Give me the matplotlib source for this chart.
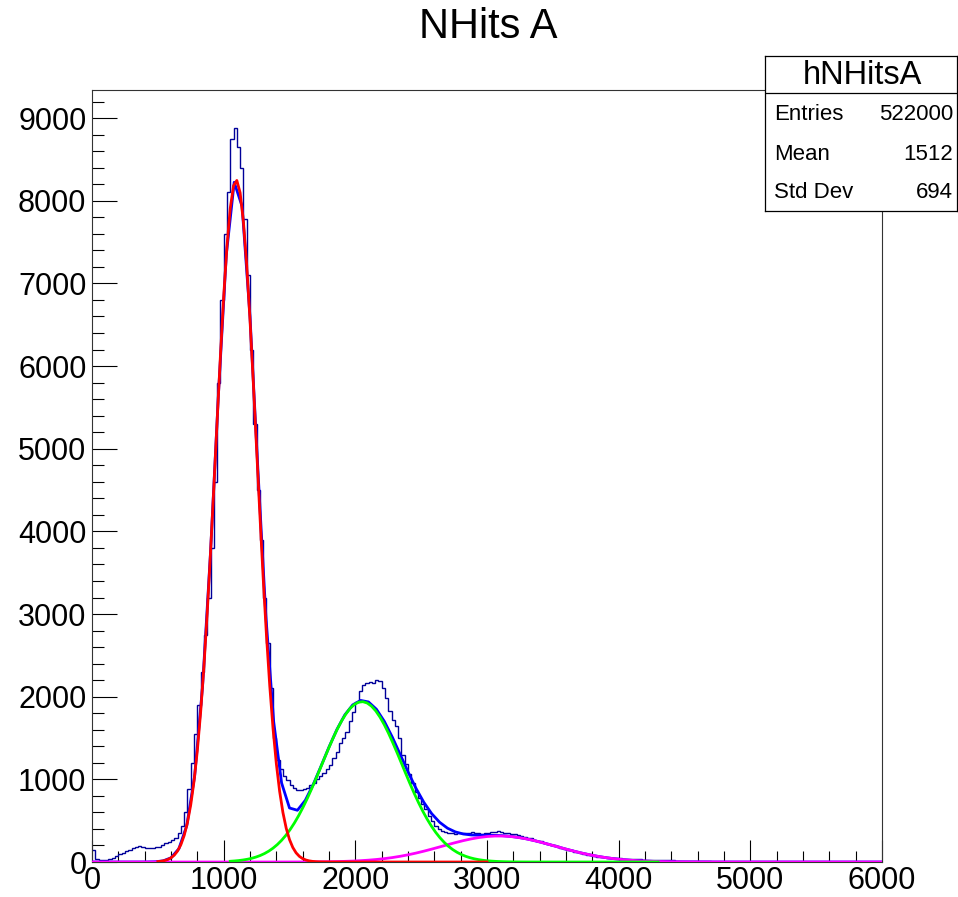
import numpy as np
import matplotlib
matplotlib.use("Agg")
from matplotlib import pyplot as plt
from matplotlib.ticker import MultipleLocator

plt.rcParams['font.family'] = ['Liberation Sans', 'DejaVu Sans']

# histogram hNHitsA in 25-wide bins (0..6000)
bin_edges = np.arange(0, 6001, 25)
counts = [140, 40, 30, 28, 28, 35, 50, 70, 100, 110,
          130, 145, 165, 180, 195, 185, 170, 165, 175, 180,
          185, 200, 225, 245, 265, 290, 350, 440, 600, 880,
          1200, 1550, 1900, 2300, 2750, 3200, 3800, 4600, 5800, 6800,
          7600, 8100, 8750, 8880, 8650, 8400, 7780, 7100, 6200, 5300,
          4500, 3900, 3200, 2650, 2100, 1500, 1230, 1120, 1040, 990,
          930, 890, 875, 870, 880, 900, 930, 960, 1000, 1040,
          1075, 1120, 1170, 1260, 1330, 1440, 1500, 1570, 1700, 1820,
          1930, 2070, 2140, 2160, 2180, 2170, 2200, 2190, 2100, 1990,
          1830, 1720, 1650, 1500, 1300, 1180, 1060, 960, 850, 770,
          700, 640, 560, 490, 440, 400, 375, 365, 350, 345,
          340, 350, 345, 355, 350, 360, 345, 350, 340, 350,
          355, 360, 365, 370, 360, 355, 350, 340, 335, 325,
          315, 305, 295, 285, 270, 260, 250, 235, 220, 210,
          200, 190, 170, 160, 150, 140, 125, 115, 108, 100,
          90, 80, 73, 66, 60, 56, 52, 49, 46, 44,
          43, 41, 39, 37, 35, 33, 31, 29, 27, 26,
          25, 24, 23, 22, 21, 20, 19, 18, 17, 16,
          16, 15, 13, 12, 11, 10, 9, 8, 0, 0] + [0] * 50

# gaussian fits: amplitude, mean, sigma, range
fit_names = ["red", "green", "magenta"]
fit_amp = [8250, 1940, 315]
fit_mean = [1095, 2050, 3090]
fit_sigma = [155, 305, 430]
fit_range = [(500, 3000), (1050, 4300), (0, 6000)]
fit_colors = ["#ff0000", "#00ff00", "#ff00ff"]
total_range = (0, 6000)

stat_labels = ["Entries", "Mean", "Std Dev"]
stat_values = ["522000", "1512", "694"]


def gaus(x, a, m, s):
    return a * np.exp(-0.5 * ((x - m) / s) ** 2)


fig = plt.figure(figsize=(9.58, 8.97), dpi=100)
W, H = 958.0, 897.0
ax = fig.add_axes([92 / W, 1 - 862 / H, (882 - 92) / W, (862 - 90) / H])

ax.stairs(counts, bin_edges, baseline=None, color="#000099", linewidth=1.0, zorder=2)

# total fit = sum of the three gaussians (npx = 100 like ROOT)
xt = np.linspace(total_range[0], total_range[1], 101)
yt = sum(gaus(xt, fit_amp[i], fit_mean[i], fit_sigma[i]) for i in range(3))
ax.plot(xt, yt, color="#0000ff", linewidth=2.0, zorder=3)

zo = {"magenta": 4, "green": 5, "red": 6}
for i, name in enumerate(fit_names):
    lo, hi = fit_range[i]
    xs = np.linspace(lo, hi, 101)
    ax.plot(xs, gaus(xs, fit_amp[i], fit_mean[i], fit_sigma[i]),
            color=fit_colors[i], linewidth=2.0, zorder=zo[name])

ax.set_xlim(0, 6000)
ax.set_ylim(0, 9340)
ax.xaxis.set_major_locator(MultipleLocator(1000))
ax.xaxis.set_minor_locator(MultipleLocator(200))
ax.yaxis.set_major_locator(MultipleLocator(1000))
ax.yaxis.set_minor_locator(MultipleLocator(200))
ax.tick_params(axis='x', which='major', direction='in', length=15.8, width=0.8, pad=3, labelsize=22)
ax.tick_params(axis='x', which='minor', direction='in', length=7.9, width=0.8)
ax.tick_params(axis='y', which='major', direction='in', length=18, width=0.8, pad=4, labelsize=22)
ax.tick_params(axis='y', which='minor', direction='in', length=8.6, width=0.8)
ax.tick_params(top=False, right=False, which='both')
for sp in ax.spines.values():
    sp.set_linewidth(0.8)
    sp.set_color("#333333")

fig.text(488 / W, 1 - 27 / H, "NHits A", fontsize=30, ha='center', va='center')

# stats box
bx = fig.add_axes([765 / W, 1 - 211 / H, (957 - 765) / W, (211 - 56) / H])
bx.set_xlim(765, 957)
bx.set_ylim(211, 56)
bx.set_xticks([])
bx.set_yticks([])
bx.set_facecolor("white")
for sp in bx.spines.values():
    sp.set_linewidth(0.9)
    sp.set_color("black")
bx.plot([765, 957], [93, 93], color="black", linewidth=0.9)
bx.text(862, 76, "hNHitsA", fontsize=23.5, ha='center', va='center')
rows_y = [115, 154, 193]
for lab, val, yy in zip(stat_labels, stat_values, rows_y):
    bx.text(774, yy, lab, fontsize=16, ha='left', va='center')
    bx.text(953, yy, val, fontsize=16, ha='right', va='center')

fig.savefig("out.png", dpi=100)
